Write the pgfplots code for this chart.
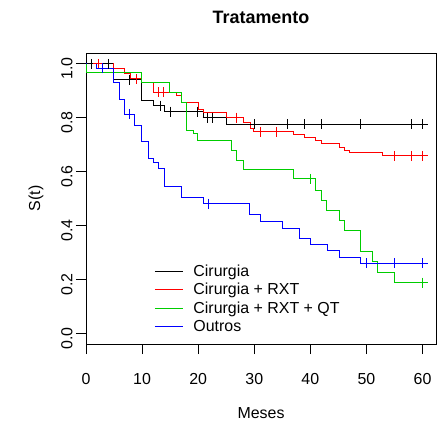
\documentclass[border=0pt]{standalone}
\usepackage{fontspec}
\setmainfont{Liberation Sans}
\usepackage{pgfplots}
\pgfplotsset{compat=1.18}
\definecolor{rgreen}{RGB}{0,205,0}
\definecolor{rblue}{RGB}{0,0,255}
\definecolor{rred}{RGB}{255,0,0}

\begin{document}
\begin{tikzpicture}
\begin{axis}[
  scale only axis, width=350bp, height=291bp,
  xmin=0, xmax=62.4, ymin=-0.04, ymax=1.04,
  xtick={0,10,20,30,40,50,60}, xticklabels={0,10,20,30,40,50,60},
  ytick={0,0.2,0.4,0.6,0.8,1}, yticklabels={0.0,0.2,0.4,0.6,0.8,1.0},
  tick align=outside, xtick pos=left, ytick pos=left, major tick length=10bp,
  tick style={black, line width=0.8bp},
  axis line style={line width=0.8bp},
  ticklabel style={font=\fontsize{16}{19}\selectfont},
  xticklabel style={yshift=-16bp},
  yticklabel style={rotate=90, anchor=south, xshift=-5bp},
  title={Tratamento},
  title style={font=\bfseries\fontsize{18}{22}\selectfont, at={(axis description cs:0.5,1.103)}, anchor=center},
  xlabel={Meses},
  xlabel style={font=\fontsize{16}{19}\selectfont, at={(axis description cs:0.5,-0.237)}, anchor=center},
  ylabel={S(t)},
  ylabel style={font=\fontsize{16}{19}\selectfont, at={(axis description cs:-0.143,0.5)}, anchor=center},
  legend style={draw=none, fill=none, at={(axis cs:11.65,0.27)}, anchor=north west,
    font=\fontsize{16}{19}\selectfont, row sep=1.6bp},
  legend cell align=left,
  legend image code/.code={\draw[#1, line width=0.9bp] (0bp,0bp) -- (28bp,0bp); \path (36bp,0bp);},
  every axis plot/.append style={line width=0.9bp},
  const plot mark left,
]
% Cirurgia
\addplot[black, const plot, no marks] coordinates {
(0,1) (4.9,0.941) (9.9,0.863) (12,0.845) (14,0.822) (21,0.80) (25,0.776) (60,0.776)};
\addlegendentry{Cirurgia}
% Cirurgia + RXT
\addplot[rred, const plot, no marks] coordinates {
(0,1) (4.9,0.984) (6.9,0.963) (7.9,0.944) (9.9,0.932) (12,0.894) (16.1,0.882) (17,0.857)
(20,0.832) (20.9,0.82) (25,0.80) (28,0.782) (29.3,0.76) (29.9,0.747) (37,0.739) (39,0.726)
(40.9,0.714) (41.9,0.704) (45.1,0.691) (46.1,0.68) (46.9,0.67) (52.9,0.658) (60,0.658)};
\addlegendentry{Cirurgia + RXT}
% Cirurgia + RXT + QT
\addplot[rgreen, const plot, no marks] coordinates {
(0,1) (0,0.966) (9.9,0.932) (14.9,0.894) (17,0.857) (17.9,0.751) (19.1,0.74) (19.8,0.714) (26,0.68)
(26.9,0.643) (28,0.606) (36.9,0.573) (40.9,0.531) (41.9,0.494) (42.9,0.456) (45.1,0.419)
(46.1,0.381) (48.9,0.303) (51,0.266) (52,0.226) (55,0.188) (60,0.188)};
\addlegendentry{Cirurgia + RXT + QT}
% Outros
\addplot[rblue, const plot, no marks] coordinates {
(0,1) (1.9,0.984) (4.9,0.932) (6,0.869) (6.9,0.813) (8.7,0.772) (9.9,0.71) (11.1,0.648)
(12.1,0.633) (13,0.611) (13.9,0.544) (17,0.503) (21,0.481) (29.1,0.44) (31.1,0.415)
(35,0.39) (38.1,0.35) (40,0.328) (43.1,0.307) (45.1,0.282) (48.9,0.26) (60,0.26)};
\addlegendentry{Outros}
% censor marks
\addplot[black, only marks, mark=+, mark size=5bp, forget plot] coordinates {
(1,1) (4,1) (7.8,0.941) (13.2,0.845) (15,0.822) (19.8,0.822) (21.7,0.80) (22.6,0.80)
(30,0.776) (36,0.776) (39,0.776) (42,0.776) (49,0.776) (58,0.776) (60,0.776)};
\addplot[rred, only marks, mark=+, mark size=5bp, forget plot] coordinates {
(2.2,1) (9,0.944) (12.9,0.894) (13.8,0.894) (26.8,0.80) (31.1,0.747) (33.9,0.747)
(55,0.658) (58.1,0.658) (60,0.658)};
\addplot[rgreen, only marks, mark=+, mark size=5bp, forget plot] coordinates {
(40,0.573) (60,0.188)};
\addplot[rblue, only marks, mark=+, mark size=5bp, forget plot] coordinates {
(3,0.984) (7.8,0.813) (21.9,0.481) (50,0.26) (55,0.26) (60,0.26)};
\end{axis}
\path (current axis.south west) ++(-86bp,-82bp) coordinate (bbA);
\path (current axis.north east) ++(3bp,53bp) coordinate (bbB);
\path (bbA) rectangle (bbB);
\end{tikzpicture}
\end{document}
